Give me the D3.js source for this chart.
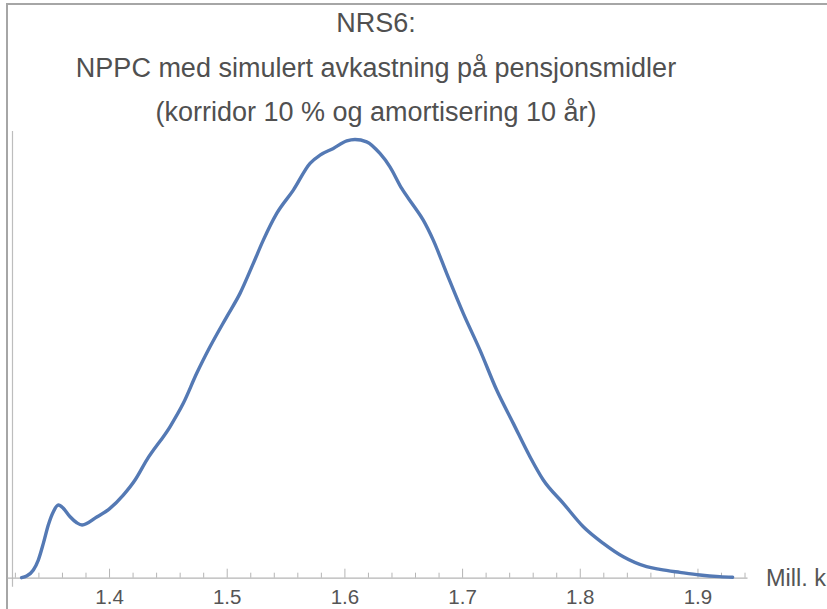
<!DOCTYPE html>
<html>
<head>
<meta charset="utf-8">
<script src="https://cdn.jsdelivr.net/npm/d3@7"></script>
<style>
  html, body { margin: 0; padding: 0; background: #fff; }
  svg { display: block; font-family: "Liberation Sans", Arial, sans-serif; }
</style>
</head>
<body>
<svg id="chart" width="827" height="609"></svg>
<script>
// Kernel density of NPPC (mill. kr) with simulated pension asset returns
const nppcValues = [1.3257, 1.3300, 1.3357, 1.3399, 1.3442, 1.3484, 1.3527, 1.3569, 1.3612, 1.3669,
  1.3726, 1.3771, 1.3896, 1.4008, 1.4121, 1.4221, 1.4320, 1.4518, 1.4631, 1.4745,
  1.4858, 1.5000, 1.5113, 1.5226, 1.5311, 1.5425, 1.5566, 1.5708, 1.5793, 1.5906,
  1.6020, 1.6090, 1.6189, 1.6302, 1.6387, 1.6487, 1.6585, 1.6670, 1.6755, 1.6869,
  1.7010, 1.7152, 1.7294, 1.7435, 1.7577, 1.7690, 1.7860, 1.8030, 1.8200, 1.8370,
  1.8568, 1.8681, 1.8851, 1.9021, 1.9190, 1.9299];
const densityValues = [0.000, 0.016, 0.075, 0.171, 0.333, 0.511, 0.640, 0.704, 0.672, 0.591,
  0.533, 0.511, 0.588, 0.672, 0.801, 0.947, 1.140, 1.463, 1.690, 1.981,
  2.238, 2.529, 2.756, 3.047, 3.272, 3.531, 3.757, 4.016, 4.096, 4.161,
  4.234, 4.248, 4.225, 4.112, 3.983, 3.773, 3.611, 3.466, 3.272, 2.950,
  2.562, 2.206, 1.819, 1.496, 1.172, 0.947, 0.721, 0.494, 0.333, 0.203,
  0.107, 0.081, 0.052, 0.026, 0.010, 0.004];

const majorTicks = [1.4, 1.5, 1.6, 1.7, 1.8, 1.9];
const minorTicks = [1.32, 1.34, 1.36, 1.38, 1.42, 1.44, 1.46, 1.48, 1.52, 1.54, 1.56, 1.58,
  1.62, 1.64, 1.66, 1.68, 1.72, 1.74, 1.76, 1.78, 1.82, 1.84, 1.86, 1.88, 1.92, 1.94];
const tickLabels = ["1.4", "1.5", "1.6", "1.7", "1.8", "1.9"];

const titleLines = ["NRS6:", "NPPC med simulert avkastning på pensjonsmidler", "(korridor 10 % og amortisering 10 år)"];
const axisLabel = "Mill. kr";

const svg = d3.select("#chart");
const W = 827, H = 609;

svg.append("rect").attr("width", W).attr("height", H).attr("fill", "#fff");

// outer frame (top and left edges)
svg.append("path")
  .attr("d", "M7,609 L7,4 L827,4")
  .attr("fill", "none")
  .attr("stroke", "#a6a6a6")
  .attr("stroke-width", 2);

const x = d3.scaleLinear().domain([1.3133, 1.9421]).range([7, 747]);
const y = d3.scaleLinear().domain([0, 4.33]).range([577.7, 131]);

// title
const title = svg.append("g").attr("fill", "#505050").attr("font-size", 27).attr("text-anchor", "middle");
const titleBaselines = [32, 77, 121];
titleLines.forEach((t, i) => {
  title.append("text").attr("x", 376).attr("y", titleBaselines[i]).text(t);
});

// y axis (no ticks)
svg.append("line")
  .attr("x1", 12.5).attr("x2", 12.5)
  .attr("y1", y(0) + 9).attr("y2", y(4.33))
  .attr("stroke", "#bdbdbd").attr("stroke-width", 1.2);

// x axis: minor ticks
const gMinor = svg.append("g")
  .attr("transform", `translate(0,${y(0)})`)
  .call(d3.axisBottom(x).tickValues(minorTicks).tickSize(-5).tickSizeOuter(0).tickFormat(""));
gMinor.select(".domain").remove();
gMinor.selectAll(".tick line").attr("stroke", "#b5b5b5");

// x axis: major ticks with labels
const gMajor = svg.append("g")
  .attr("transform", `translate(0,${y(0)})`)
  .call(d3.axisBottom(x).tickValues(majorTicks).tickSize(-9).tickSizeOuter(0).tickPadding(12)
    .tickFormat((d, i) => tickLabels[i]));
gMajor.select(".domain").attr("stroke", "#b5b5b5").attr("stroke-width", 1.2);
gMajor.selectAll(".tick line").attr("stroke", "#b5b5b5");
gMajor.selectAll(".tick text")
  .attr("fill", "#555")
  .attr("font-size", 20.5)
  .attr("font-family", "'Liberation Sans', Arial, sans-serif");

svg.append("text")
  .attr("x", 766).attr("y", 586)
  .attr("fill", "#555")
  .attr("font-size", 23.5)
  .text(axisLabel);

// density curve
const pts = nppcValues.map((v, i) => [v, densityValues[i]]);
const line = d3.line()
  .x(d => x(d[0]))
  .y(d => y(d[1]))
  .curve(d3.curveMonotoneX);

svg.append("path")
  .datum(pts)
  .attr("d", line)
  .attr("fill", "none")
  .attr("stroke", "#5479b4")
  .attr("stroke-width", 3.4)
  .attr("stroke-linejoin", "round")
  .attr("stroke-linecap", "round");
</script>
</body>
</html>
